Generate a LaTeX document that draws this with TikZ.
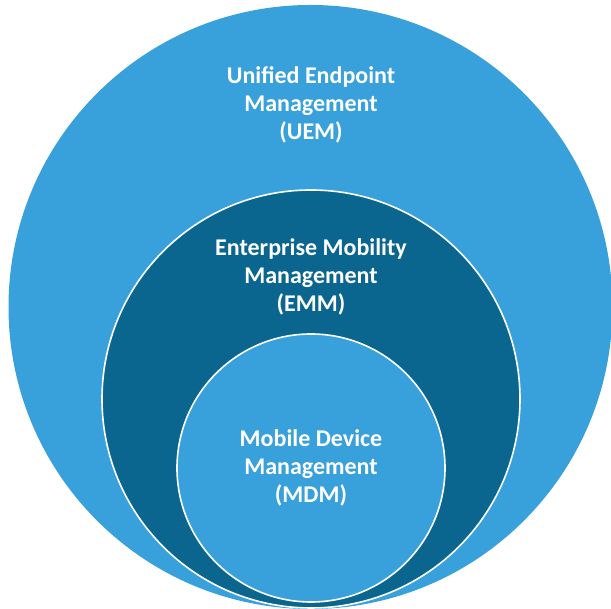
\documentclass[tikz,border=0pt]{standalone}
\usepackage{fontspec}
\setmainfont{Carlito}
\usepackage{tikz}
\definecolor{lightblue}{RGB}{56,160,218}
\definecolor{darkblue}{RGB}{11,102,143}

\begin{document}
\begin{tikzpicture}[x=1pt,y=1pt,
		ring/.style={circle,inner sep=0pt,draw=white,line width=1.6pt},
		label/.style={text=white,align=center,font=\fontsize{24}{28}\selectfont\bfseries}]
			\useasboundingbox (0,0) rectangle (611,609);
			\node[ring,draw=none,fill=lightblue,minimum size=604pt] (uem) at (310.5,302) {};
			\node[ring,fill=darkblue,minimum size=418pt] (emm) at (311,210) {};
			\node[ring,fill=lightblue,minimum size=268pt] (mdm) at (311,141) {};
			\node[label] (uemtext) at (311,504) {Unified Endpoint\\Management\\(UEM)};
			\node[label] (emmtext) at (311,332) {Enterprise Mobility\\Management\\(EMM)};
			\node[label] (mdmtext) at (311,141) {Mobile Device\\Management\\(MDM)};
		\end{tikzpicture}
\end{document}
